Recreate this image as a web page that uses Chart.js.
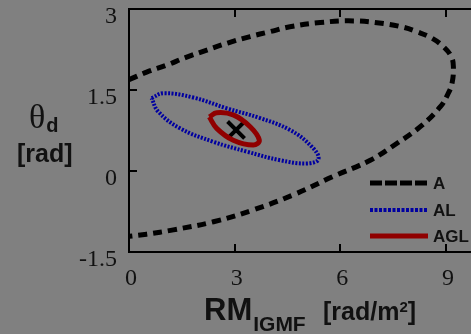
<!DOCTYPE html>
<html>
<head>
<meta charset="utf-8">
<script src="https://cdn.jsdelivr.net/npm/chart.js@4"></script>
<style>
  html, body { margin: 0; padding: 0; background: #808080; }
  canvas { display: block; }
</style>
</head>
<body>
<canvas id="contourChart" width="471" height="334"></canvas>
<script>
const xTickValues = [0, 3, 6, 9];
const yTickValues = [-1.5, 0, 1.5, 3];
const seriesNames = ["A", "AL", "AGL"];

// contour A, cut off by the left axis at both ends
const contourAx = [0, 0.5, 1.07, 1.6, 2.21, 2.8, 3.44, 4.0, 4.57, 5.43, 6.37, 7.23, 7.8, 8.17, 8.6, 8.93, 9.15, 9.21, 9.17, 9.05, 8.84, 8.27, 7.6, 6.85, 5.8, 4.67, 3.53, 2.4, 1.26, 0.5, 0];
const contourAy = [1.69, 1.83, 1.96, 2.1, 2.24, 2.37, 2.49, 2.58, 2.67, 2.75, 2.78, 2.73, 2.66, 2.58, 2.46, 2.3, 2.12, 1.93, 1.62, 1.42, 1.19, 0.82, 0.51, 0.2, -0.1, -0.44, -0.72, -0.94, -1.09, -1.17, -1.21];

// contour AL (closed)
const contourALx = [0.64, 0.98, 1.83, 2.78, 3.72, 4.57, 5.19, 5.38, 5.05, 4.29, 3.34, 2.4, 1.45, 0.83, 0.64];
const contourALy = [1.35, 1.44, 1.36, 1.16, 0.98, 0.76, 0.45, 0.22, 0.14, 0.2, 0.36, 0.54, 0.79, 1.1, 1.35];

// contour AGL (closed)
const contourAGLx = [2.28, 2.49, 2.96, 3.44, 3.7, 3.53, 2.96, 2.49, 2.28];
const contourAGLy = [1.0, 1.08, 1.04, 0.82, 0.57, 0.48, 0.57, 0.79, 1.0];

// best-fit marker
const bestX = [3.04];
const bestY = [0.76];

const zip = (xs, ys) => xs.map((x, i) => ({ x: x, y: ys[i] }));
const ink = "#111";
const sans = "'Liberation Sans', Arial, sans-serif";
const serif = "'Liberation Serif', 'Times New Roman', serif";

const fixedTicks = (values) => (scale) => {
  scale.ticks = values.map((v) => ({ value: v }));
};

// tick marks point into the plot, the titles need sub/superscripts,
// and the legend sits inside the plot area
const decorations = {
  id: "decorations",
  afterDraw(chart) {
    const ctx = chart.ctx;
    const area = chart.chartArea;
    const x = chart.scales.x;
    const y = chart.scales.y;
    ctx.save();
    ctx.strokeStyle = "#000";
    ctx.lineWidth = 2;
    ctx.setLineDash([]);
    ctx.beginPath();
    xTickValues.forEach((v) => {
      const px = Math.round(x.getPixelForValue(v));
      ctx.moveTo(px, area.bottom);
      ctx.lineTo(px, area.bottom - 8);
      ctx.moveTo(px, area.top);
      ctx.lineTo(px, area.top + 8);
    });
    yTickValues.forEach((v) => {
      const py = Math.round(y.getPixelForValue(v));
      ctx.moveTo(area.left, py);
      ctx.lineTo(area.left + 8, py);
    });
    ctx.stroke();

    // legend
    const rows = [183, 210, 236];
    chart.data.datasets.slice(0, 3).forEach((ds, i) => {
      ctx.strokeStyle = ds.borderColor;
      ctx.lineWidth = ds.borderWidth;
      ctx.setLineDash(ds.legendDash || []);
      ctx.beginPath();
      ctx.moveTo(370, rows[i]);
      ctx.lineTo(428, rows[i]);
      ctx.stroke();
      ctx.setLineDash([]);
      ctx.fillStyle = ink;
      ctx.font = "bold 17px " + sans;
      ctx.textBaseline = "middle";
      ctx.fillText(ds.label, 433, rows[i] + 1);
    });

    // axis titles
    ctx.fillStyle = ink;
    ctx.textBaseline = "alphabetic";
    let cx = 204;
    ctx.font = "bold 31px " + sans;
    ctx.fillText("RM", cx, 320);
    cx += ctx.measureText("RM").width + 1;
    ctx.font = "bold 21px " + sans;
    ctx.fillText("IGMF", cx, 331);
    ctx.font = "bold 25px " + sans;
    cx = 323;
    ctx.fillText("[rad/m", cx, 320);
    cx += ctx.measureText("[rad/m").width;
    ctx.font = "bold 15px " + sans;
    ctx.fillText("2", cx, 312);
    cx += ctx.measureText("2").width;
    ctx.font = "bold 25px " + sans;
    ctx.fillText("]", cx, 320);

    ctx.font = "34px " + serif;
    ctx.fillText("\u03b8", 29, 128);
    cx = 29 + ctx.measureText("\u03b8").width + 1;
    ctx.font = "bold 20px " + sans;
    ctx.fillText("d", cx, 132);
    ctx.font = "bold 25px " + sans;
    ctx.fillText("[rad]", 17, 162);
    ctx.restore();
  },
};

new Chart(document.getElementById("contourChart"), {
  type: "scatter",
  data: {
    datasets: [
      {
        label: seriesNames[0],
        data: zip(contourAx, contourAy),
        showLine: true,
        borderColor: "#000",
        borderWidth: 5,
        borderDash: [9, 6],
        legendDash: [12, 3],
        tension: 0.4,
        pointRadius: 0,
      },
      {
        label: seriesNames[1],
        data: zip(contourALx, contourALy),
        showLine: true,
        borderColor: "#0000a0",
        borderWidth: 4,
        borderDash: [2, 1.5],
        legendDash: [3, 1.5],
        tension: 0.4,
        pointRadius: 0,
      },
      {
        label: seriesNames[2],
        data: zip(contourAGLx, contourAGLy),
        showLine: true,
        borderColor: "#900000",
        borderWidth: 5,
        tension: 0.4,
        pointRadius: 0,
      },
      {
        label: "best",
        data: zip(bestX, bestY),
        pointStyle: "crossRot",
        pointRadius: 12,
        borderWidth: 4,
        borderColor: "#000",
        backgroundColor: "#000",
      },
    ],
  },
  options: {
    responsive: false,
    animation: false,
    devicePixelRatio: 1,
    layout: { padding: 0, autoPadding: false },
    plugins: {
      legend: { display: false },
      tooltip: { enabled: false },
    },
    scales: {
      x: {
        type: "linear",
        position: "bottom",
        min: 0,
        max: 9.71,
        afterBuildTicks: fixedTicks(xTickValues),
        afterFit: (s) => {
          s.height = 82;
          s.paddingLeft = 0;
          s.paddingRight = 0;
        },
        grid: { display: false, drawTicks: false },
        border: { color: "#000", width: 2 },
        ticks: {
          color: ink,
          font: { family: serif, size: 24 },
          padding: 12,
          labelOffset: 2,
          maxRotation: 0,
        },
      },
      x2: {
        type: "linear",
        position: "top",
        min: 0,
        max: 9.71,
        afterBuildTicks: fixedTicks(xTickValues),
        afterFit: (s) => {
          s.height = 9;
          s.paddingLeft = 0;
          s.paddingRight = 0;
        },
        grid: { display: false, drawTicks: false },
        border: { color: "#000", width: 2 },
        ticks: { display: false },
      },
      y: {
        type: "linear",
        position: "left",
        min: -1.5,
        max: 3,
        afterBuildTicks: fixedTicks(yTickValues),
        afterFit: (s) => {
          s.width = 129;
          s.paddingTop = 0;
          s.paddingBottom = 0;
        },
        grid: { display: false, drawTicks: false },
        border: { color: "#000", width: 2 },
        ticks: {
          color: ink,
          font: { family: serif, size: 24 },
          padding: 12,
          labelOffset: 8,
          callback: (v) => String(v),
        },
      },
    },
  },
  plugins: [decorations],
});
</script>
</body>
</html>
